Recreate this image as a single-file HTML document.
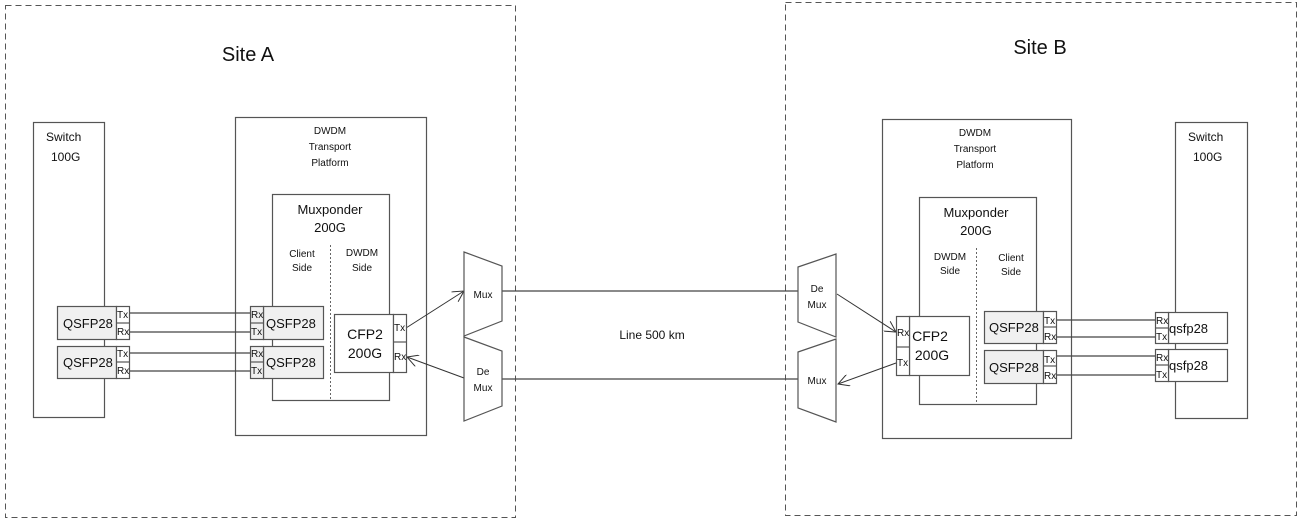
<!DOCTYPE html>
<html><head><meta charset="utf-8"><style>
html,body{margin:0;padding:0;background:#fff;}
svg{display:block;font-family:"Liberation Sans",sans-serif;}
text{fill:#111;}
</style></head><body>
<svg width="1301" height="520" viewBox="0 0 1301 520" xmlns="http://www.w3.org/2000/svg">
<defs>
<marker id="ar" markerWidth="12" markerHeight="12" refX="11" refY="6" orient="auto" markerUnits="userSpaceOnUse">
<path d="M0,0 L11,6 L0,12" fill="none" stroke="#333" stroke-width="1"/>
</marker>
</defs>
<g fill="none" stroke="#555" stroke-width="1">
<rect x="5.5" y="5.5" width="510" height="512" stroke-dasharray="6,4"/>
<rect x="785.5" y="2.5" width="511" height="513" stroke-dasharray="6,4"/>
</g>
<text x="248" y="61" font-size="20" text-anchor="middle">Site A</text>
<text x="1040" y="54" font-size="20" text-anchor="middle">Site B</text>

<g fill="#fff" stroke="#555" stroke-width="1.2">
<!-- Site A -->
<rect x="33.5" y="122.5" width="71" height="295"/>
<rect x="235.5" y="117.5" width="191" height="318"/>
<rect x="272.5" y="194.5" width="117" height="206"/>
<!-- Site B -->
<rect x="882.5" y="119.5" width="189" height="319"/>
<rect x="919.5" y="197.5" width="117" height="207"/>
<rect x="1175.5" y="122.5" width="72" height="296"/>
</g>
<g stroke="#666" stroke-width="1" stroke-dasharray="2,2">
<line x1="330.5" y1="245" x2="330.5" y2="400"/>
<line x1="976.5" y1="248" x2="976.5" y2="404"/>
</g>
<g font-size="10" text-anchor="middle">
<text x="330" y="134">DWDM</text><text x="330" y="150">Transport</text><text x="330" y="166">Platform</text>
<text x="975" y="136">DWDM</text><text x="975" y="152">Transport</text><text x="975" y="168">Platform</text>
<text x="302" y="257">Client</text><text x="302" y="271">Side</text>
<text x="362" y="256">DWDM</text><text x="362" y="271">Side</text>
<text x="950" y="260">DWDM</text><text x="950" y="274">Side</text>
<text x="1011" y="261">Client</text><text x="1011" y="275">Side</text>
</g>
<g font-size="13" text-anchor="middle">
<text x="330" y="214">Muxponder</text><text x="330" y="232">200G</text>
<text x="976" y="217">Muxponder</text><text x="976" y="235">200G</text>
</g>
<g font-size="12">
<text x="46" y="141">Switch</text><text x="51" y="161">100G</text>
<text x="1188" y="141">Switch</text><text x="1193" y="161">100G</text>
</g>
<text x="652" y="339" font-size="12" text-anchor="middle">Line 500 km</text>

<!-- connection lines -->
<g stroke="#444" stroke-width="1.2" fill="none">
<line x1="130" y1="313" x2="250" y2="313"/>
<line x1="130" y1="332" x2="250" y2="332"/>
<line x1="130" y1="353" x2="250" y2="353"/>
<line x1="130" y1="371" x2="250" y2="371"/>
<line x1="1056" y1="320" x2="1155" y2="320"/>
<line x1="1056" y1="337" x2="1155" y2="337"/>
<line x1="1056" y1="356" x2="1155" y2="356"/>
<line x1="1056" y1="375" x2="1155" y2="375"/>
<line x1="502" y1="291" x2="798" y2="291"/>
<line x1="502" y1="379" x2="798" y2="379"/>
</g>
<g stroke="#333" stroke-width="1" fill="none">
<line x1="406" y1="328" x2="464" y2="291" marker-end="url(#ar)"/>
<line x1="464" y1="378" x2="407" y2="357" marker-end="url(#ar)"/>
<line x1="837" y1="294" x2="896" y2="332" marker-end="url(#ar)"/>
<line x1="896" y1="363" x2="838" y2="384" marker-end="url(#ar)"/>
</g>

<!-- Mux shapes -->
<g fill="#fff" stroke="#555" stroke-width="1.2">
<polygon points="464,252 502,266 502,321 464,336"/>
<polygon points="464,337 502,351 502,406 464,421"/>
<polygon points="798,267 836,254 836,337 798,322"/>
<polygon points="798,352 836,339 836,422 798,408"/>
</g>
<g font-size="10" text-anchor="middle">
<text x="483" y="298">Mux</text>
<text x="483" y="375">De</text><text x="483" y="391">Mux</text>
<text x="817" y="292">De</text><text x="817" y="308">Mux</text>
<text x="817" y="384">Mux</text>
</g>

<!-- modules -->
<g stroke="#555" stroke-width="1.2">
<!-- left switch qsfp -->
<rect x="57.5" y="306.5" width="59" height="33" fill="#f0f0f0"/>
<rect x="116.5" y="306.5" width="13" height="33" fill="#fff"/>
<line x1="116" y1="323" x2="130" y2="323"/>
<rect x="57.5" y="346.5" width="59" height="32" fill="#f0f0f0"/>
<rect x="116.5" y="346.5" width="13" height="32" fill="#fff"/>
<line x1="116" y1="362" x2="130" y2="362"/>
<!-- client qsfp A -->
<rect x="263.5" y="306.5" width="60" height="33" fill="#f0f0f0"/>
<rect x="250.5" y="306.5" width="13" height="33" fill="#f0f0f0"/>
<line x1="250" y1="323" x2="264" y2="323"/>
<rect x="263.5" y="346.5" width="60" height="32" fill="#f0f0f0"/>
<rect x="250.5" y="346.5" width="13" height="32" fill="#f0f0f0"/>
<line x1="250" y1="362" x2="264" y2="362"/>
<!-- CFP2 A -->
<rect x="334.5" y="314.5" width="59" height="58" fill="#fff"/>
<rect x="393.5" y="314.5" width="13" height="58" fill="#fff"/>
<line x1="393" y1="342" x2="407" y2="342"/>
<!-- CFP2 B -->
<rect x="909.5" y="316.5" width="60" height="59" fill="#fff"/>
<rect x="896.5" y="316.5" width="13" height="59" fill="#fff"/>
<line x1="896" y1="347" x2="910" y2="347"/>
<!-- client qsfp B -->
<rect x="984.5" y="311.5" width="59" height="32" fill="#f0f0f0"/>
<rect x="1043.5" y="311.5" width="13" height="32" fill="#fff"/>
<line x1="1043" y1="327" x2="1057" y2="327"/>
<rect x="984.5" y="350.5" width="59" height="33" fill="#f0f0f0"/>
<rect x="1043.5" y="350.5" width="13" height="33" fill="#fff"/>
<line x1="1043" y1="366" x2="1057" y2="366"/>
<!-- qsfp28 B switch -->
<rect x="1168.5" y="312.5" width="59" height="31" fill="#fff"/>
<rect x="1155.5" y="312.5" width="13" height="31" fill="#fff"/>
<line x1="1155" y1="328" x2="1169" y2="328"/>
<rect x="1168.5" y="349.5" width="59" height="32" fill="#fff"/>
<rect x="1155.5" y="349.5" width="13" height="32" fill="#fff"/>
<line x1="1155" y1="365" x2="1169" y2="365"/>
</g>
<g font-size="13">
<text x="63" y="328">QSFP28</text>
<text x="63" y="367">QSFP28</text>
<text x="266" y="328">QSFP28</text>
<text x="266" y="367">QSFP28</text>
<text x="989" y="332">QSFP28</text>
<text x="989" y="372">QSFP28</text>
<text x="1169" y="333">qsfp28</text>
<text x="1169" y="370">qsfp28</text>
</g>
<g font-size="14" text-anchor="middle">
<text x="365" y="339">CFP2</text><text x="365" y="358">200G</text>
<text x="930" y="341" text-anchor="middle">CFP2</text><text x="932" y="360">200G</text>
</g>
<g font-size="10">
<text x="117" y="318">Tx</text><text x="117" y="335">Rx</text>
<text x="117" y="357">Tx</text><text x="117" y="374">Rx</text>
<text x="251" y="318">Rx</text><text x="251" y="335">Tx</text>
<text x="251" y="357">Rx</text><text x="251" y="374">Tx</text>
<text x="394" y="331">Tx</text><text x="394" y="360">Rx</text>
<text x="897" y="336">Rx</text><text x="897" y="366">Tx</text>
<text x="1044" y="324">Tx</text><text x="1044" y="340">Rx</text>
<text x="1044" y="363">Tx</text><text x="1044" y="379">Rx</text>
<text x="1156" y="324">Rx</text><text x="1156" y="340">Tx</text>
<text x="1156" y="361">Rx</text><text x="1156" y="378">Tx</text>
</g>
</svg>
</body></html>
